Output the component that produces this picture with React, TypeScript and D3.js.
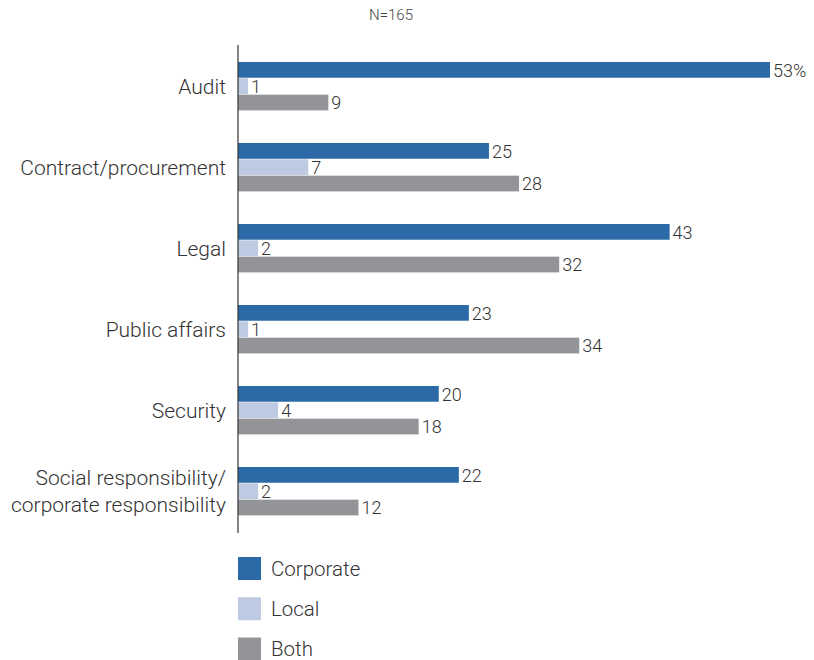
import React from "react";
import * as d3 from "d3";

const categories = [
  "Audit",
  "Contract/procurement",
  "Legal",
  "Public affairs",
  "Security",
  "Social responsibility/\ncorporate responsibility",
];
const seriesNames = ["Corporate", "Local", "Both"];
const corporate = [53, 25, 43, 23, 20, 22];
const local = [1, 7, 2, 1, 4, 2];
const both = [9, 28, 32, 34, 18, 12];
const colors = ["#2b6aa6", "#bec9e2", "#939498"];
const subtitle = "N=165";

export default function App() {
  const W = 814,
    H = 660;
  const x0 = 238;
  const x = d3.scaleLinear().domain([0, 53]).range([x0, 770]);
  const y = d3
    .scaleBand<string>()
    .domain(categories)
    .range([62, 516])
    .paddingInner(0.395)
    .paddingOuter(0);
  const sub = d3
    .scaleBand<string>()
    .domain(seriesNames)
    .range([0, y.bandwidth()])
    .padding(0);
  const series = [corporate, local, both];
  const font = "Roboto, 'Open Sans', sans-serif";
  const legendY = d3.scalePoint<string>().domain(seriesNames).range([568, 648.5]);

  return (
    <svg
      width={W}
      height={H}
      style={{ position: "absolute", left: 0, top: 0 }}
      fontFamily={font}
      fontWeight={300}
    >
      <rect width={W} height={H} fill="#fff" />
      <text x={391} y={20} textAnchor="middle" fontSize={15} fill="#444">
        {subtitle}
      </text>
      {categories.map((c, i) => {
        const lines = c.split("\n");
        const cy = (y(c) as number) + y.bandwidth() / 2;
        return (
          <g key={c}>
            <text x={226} textAnchor="end" fontSize={21} fill="#333">
              {lines.map((l, k) => (
                <tspan
                  key={k}
                  x={226}
                  y={cy + 7.5 + (k - (lines.length - 1) / 2) * 27}
                >
                  {l}
                </tspan>
              ))}
            </text>
            {seriesNames.map((s, j) => {
              const v = series[j][i];
              const by = (y(c) as number) + (sub(s) as number);
              return (
                <g key={s}>
                  <rect
                    x={x0}
                    y={by}
                    width={x(v) - x0}
                    height={sub.bandwidth() - 0.6}
                    fill={colors[j]}
                  />
                  <text
                    x={x(v) + 3}
                    y={by + sub.bandwidth() / 2 + 6.5}
                    fontSize={18}
                    fill="#333"
                  >
                    {i === 0 && j === 0 ? `${v}%` : v}
                  </text>
                </g>
              );
            })}
          </g>
        );
      })}
      <line x1={x0} x2={x0} y1={45} y2={533} stroke="#333" strokeWidth={1.2} />
      {seriesNames.map((s, j) => {
        const ly = legendY(s) as number;
        return (
          <g key={s}>
            <rect x={238} y={ly - 11} width={23} height={23} fill={colors[j]} />
            <text x={271} y={ly + 7.5} fontSize={20.5} fill="#333">
              {s}
            </text>
          </g>
        );
      })}
    </svg>
  );
}
